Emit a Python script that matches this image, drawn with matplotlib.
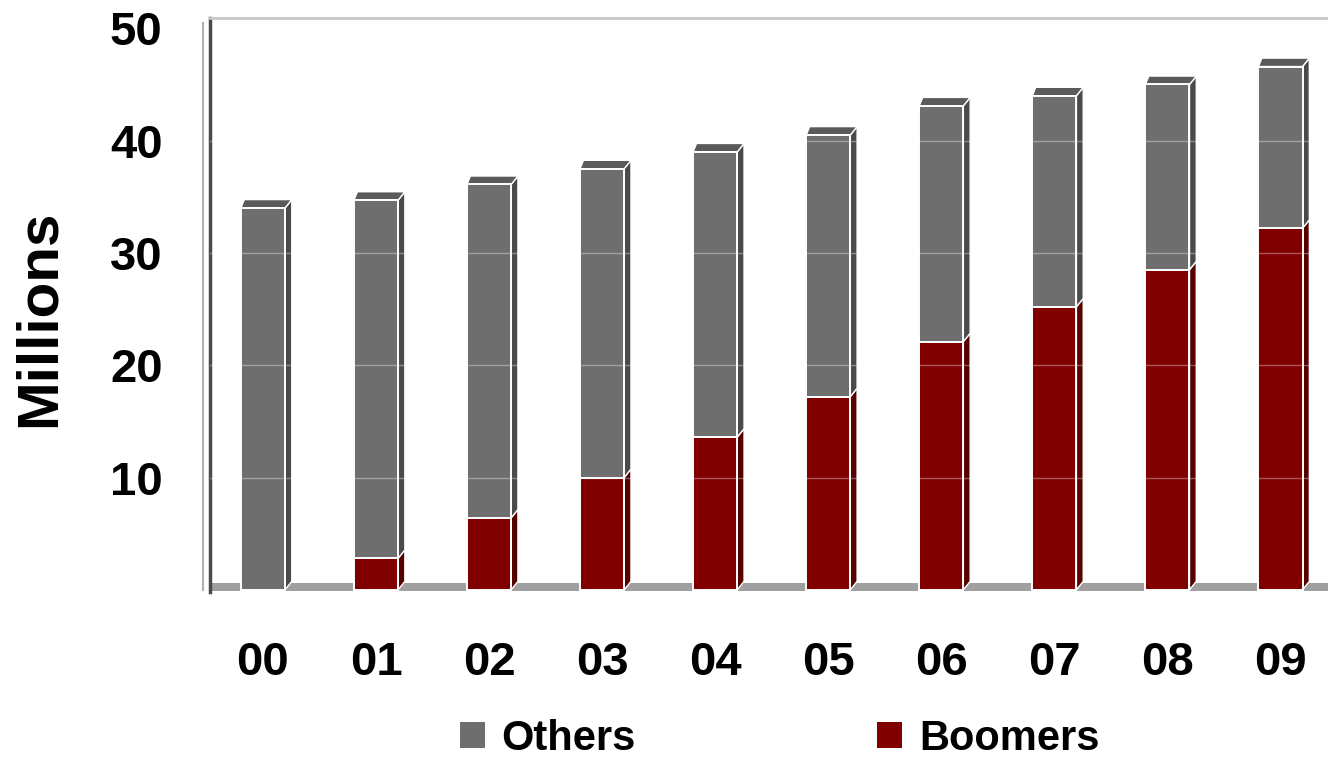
import matplotlib
matplotlib.use("Agg")
import matplotlib.pyplot as plt
from matplotlib.patches import Polygon, Patch

years = ["00", "01", "02", "03", "04", "05", "06", "07", "08", "09"]
boomers = [0.0, 2.8, 6.4, 10.0, 13.6, 17.2, 22.1, 25.2, 28.5, 32.2]
others = [34.0, 31.9, 29.7, 27.5, 25.4, 23.3, 21.0, 18.8, 16.5, 14.4]

gray_front, gray_side, gray_top = "#6e6e6e", "#4a4a4a", "#5a5a5a"
red_front, red_side = "#800000", "#560000"
width = 0.39
dx, dy = 0.06, 0.75  # fake depth for the 3D look

plt.rcParams["font.family"] = ["Liberation Sans", "DejaVu Sans"]
plt.rcParams["font.weight"] = "bold"

fig = plt.figure(figsize=(13.28, 7.6), dpi=100)
ax = fig.add_axes([0.158, 0.221, 0.842, 0.755])

x = list(range(len(years)))

# floor band
ax.axhspan(-0.15, 0.6, color="#a0a0a0", zorder=1, lw=0)

ax.bar(x, boomers, width, color=red_front, edgecolor="white", linewidth=1.4, zorder=3)
ax.bar(x, others, width, bottom=boomers, color=gray_front, edgecolor="white",
       linewidth=1.4, zorder=3)

def side(xc, y0, y1, color):
    xr = xc + width / 2
    ax.add_patch(Polygon([(xr, y0), (xr + dx, y0 + dy), (xr + dx, y1 + dy), (xr, y1)],
                         closed=True, facecolor=color, edgecolor="white",
                         linewidth=1.0, zorder=2.5))

for xc, b, o in zip(x, boomers, others):
    if b > 0:
        side(xc, 0, b, red_side)
    side(xc, b, b + o, gray_side)
    top = b + o
    xl, xr = xc - width / 2, xc + width / 2
    ax.add_patch(Polygon([(xl, top), (xr, top), (xr + dx, top + dy), (xl + dx * 0.5, top + dy)],
                         closed=True, facecolor=gray_top, edgecolor="white",
                         linewidth=1.0, zorder=2.5))

# faint gridlines showing through the bars
for yv in [10, 20, 30, 40]:
    ax.axhline(yv, color="white", alpha=0.35, lw=1, zorder=4)

ax.set_xlim(-0.47, 9.42)
ax.set_ylim(-0.2, 50.9)
ax.set_yticks([10, 20, 30, 40, 50])
ax.set_xticks(x)
ax.set_xticklabels(years)
ax.tick_params(axis="y", length=0, pad=34, labelsize=34)
ax.tick_params(axis="x", length=0, pad=35, labelsize=34)

for s in ["right", "bottom"]:
    ax.spines[s].set_visible(False)
ax.spines["left"].set_color("#4a4a4a")
ax.spines["left"].set_linewidth(2.5)
ax.spines["top"].set_color("#c8c8c8")
ax.spines["top"].set_linewidth(2)
ax.plot([-0.53, -0.53], [0, 50.5], color="#b0b0b0", lw=1.5, clip_on=False, zorder=0)

fig.text(40 / 1328, 1 - 318 / 760, "Millions", rotation=90, ha="center", va="center",
         fontsize=42, fontweight="bold")

handles = [Patch(facecolor=gray_front), Patch(facecolor=red_front)]
fig.legend(handles, ["Others", "Boomers"], loc="center", bbox_to_anchor=(0.587, 0.028),
           ncol=2, frameon=False, fontsize=30, handlelength=0.6, handleheight=0.6,
           handletextpad=0.4, columnspacing=5.8, borderpad=0)

fig.savefig("out.png", dpi=100)
plt.close(fig)
